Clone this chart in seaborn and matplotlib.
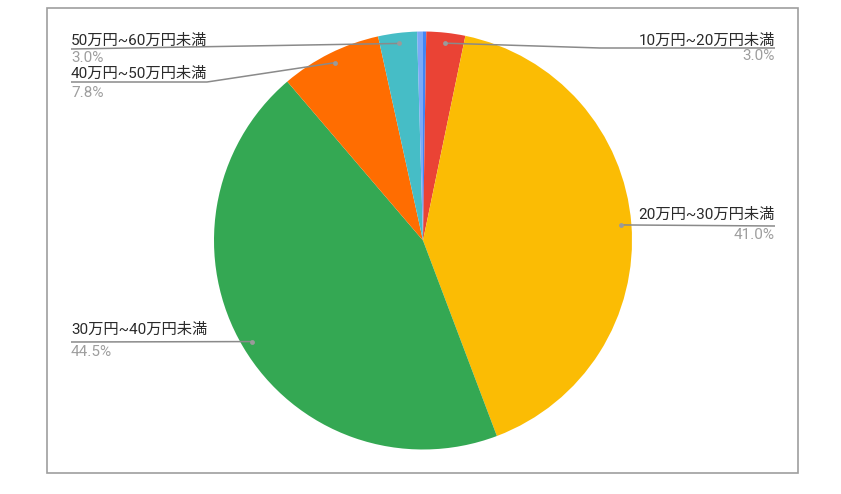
import numpy as np
import matplotlib
matplotlib.use("Agg")
import matplotlib.pyplot as plt
from matplotlib.patches import Rectangle
import seaborn as sns

# -----------------------------
# Data (shares of each income band, %)
# -----------------------------
bands = ["10万円未満", "10万円~20万円未満", "20万円~30万円未満", "30万円~40万円未満",
         "40万円~50万円未満", "50万円~60万円未満", "60万円以上"]
shares = [0.25, 3.0, 41.0, 44.5, 7.8, 3.0, 0.45]
pct_labels = ["", "3.0%", "41.0%", "44.5%", "7.8%", "3.0%", ""]
colors = ["#4285F4", "#EA4335", "#FBBC04", "#34A853", "#FF6D01", "#46BDC6", "#7BAAF7"]

sns.set_theme(style="white")
plt.rcParams["font.family"] = ["Roboto", "Noto Sans CJK JP", "DejaVu Sans"]

W, H = 841, 494
fig = plt.figure(figsize=(W / 100, H / 100), dpi=100)
ax = fig.add_axes([0, 0, 1, 1])

def py(y):
    # pixel row (from top) -> axes y
    return H - y

cx, cy, r = 423, 240.5, 209
ax.pie(shares, colors=colors, startangle=90, counterclock=False,
       center=(cx, py(cy)), radius=r, wedgeprops=dict(linewidth=0))

# anchor dots at the middle of each slice
total = sum(shares)
starts = np.cumsum([0] + shares[:-1])
anchors = []
for s, v in zip(starts, shares):
    th = np.deg2rad(360 * (s + v / 2) / total)
    anchors.append((cx + 0.95 * r * np.sin(th), cy - 0.95 * r * np.cos(th)))

# label layout: (slice index, text x, align, text y, pct y, leader path after dot)
layout = [
    (1, 775, "right", 40.5, 56.5, [(600, 48), (775, 48)]),
    (2, 775, "right", 215, 235, [(775, 226)]),
    (3, 71, "left", 330, 351.5, [(71, 342)]),
    (4, 71, "left", 74, 93, [(207, 82), (71, 82)]),
    (5, 71, "left", 41, 58, [(71, 49)]),
]

line_col = "#8a8a8a"
for i, tx, ha, ty, pyy, path in layout:
    ax_, ay_ = anchors[i]
    xs = [ax_] + [p[0] for p in path]
    ys = [py(ay_)] + [py(p[1]) for p in path]
    ax.plot(xs, ys, color=line_col, lw=1.1, solid_capstyle="butt")
    ax.plot(ax_, py(ay_), "o", color="#9a9a9a", ms=3.5, mec="none")
    ax.text(tx, py(ty), bands[i], ha=ha, va="center", fontsize=11, color="#2a2a2a")
    ax.text(tx, py(pyy), pct_labels[i], ha=ha, va="center", fontsize=11, color="#9e9e9e")

# chart frame
ax.add_patch(Rectangle((47, py(473)), 751, 465, fill=False, ec="#9e9e9e", lw=1.2))

ax.set_xlim(0, W)
ax.set_ylim(0, H)
ax.set_aspect("auto")
ax.axis("off")

plt.savefig("out.png", dpi=100, facecolor="white")
